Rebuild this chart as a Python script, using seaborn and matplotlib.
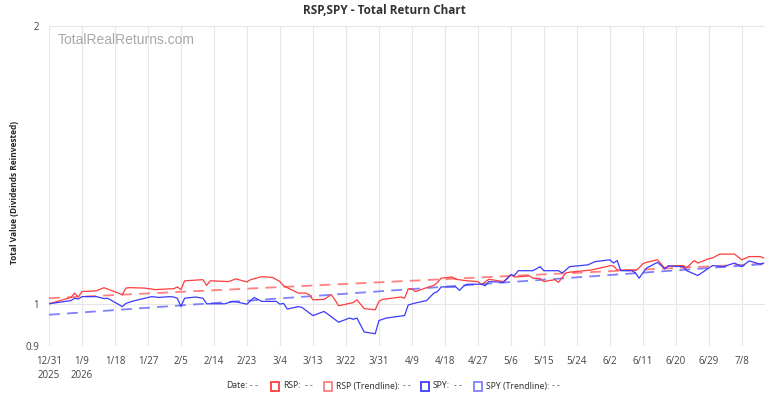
import pandas as pd
import matplotlib
matplotlib.use('Agg')
import matplotlib.pyplot as plt
from matplotlib.patches import Rectangle
from matplotlib.ticker import FixedLocator, FixedFormatter, NullLocator
import seaborn as sns

rsp_dates = ['2025-12-31', '2026-01-06', '2026-01-07', '2026-01-08', '2026-01-09', '2026-01-13',
             '2026-01-15', '2026-01-20', '2026-01-21', '2026-01-22', '2026-01-26', '2026-01-29',
             '2026-02-02', '2026-02-03', '2026-02-04', '2026-02-05', '2026-02-06', '2026-02-11',
             '2026-02-12', '2026-02-13', '2026-02-18', '2026-02-20', '2026-02-23', '2026-02-24',
             '2026-02-27', '2026-03-02', '2026-03-04', '2026-03-05', '2026-03-06', '2026-03-09',
             '2026-03-11', '2026-03-12', '2026-03-13', '2026-03-16', '2026-03-18', '2026-03-19',
             '2026-03-20', '2026-03-24', '2026-03-25', '2026-03-27', '2026-03-30', '2026-03-31',
             '2026-04-01', '2026-04-06', '2026-04-07', '2026-04-08', '2026-04-09', '2026-04-10',
             '2026-04-13', '2026-04-15', '2026-04-16', '2026-04-17', '2026-04-20', '2026-04-21',
             '2026-04-24', '2026-04-27', '2026-04-28', '2026-04-30', '2026-05-04', '2026-05-06',
             '2026-05-07', '2026-05-11', '2026-05-12', '2026-05-14', '2026-05-15', '2026-05-18',
             '2026-05-19', '2026-05-21', '2026-05-22', '2026-05-28', '2026-06-01', '2026-06-02',
             '2026-06-03', '2026-06-04', '2026-06-08', '2026-06-09', '2026-06-10', '2026-06-11',
             '2026-06-12', '2026-06-15', '2026-06-17', '2026-06-18', '2026-06-22', '2026-06-23',
             '2026-06-25', '2026-06-26', '2026-06-29', '2026-06-30', '2026-07-02', '2026-07-06',
             '2026-07-08', '2026-07-10', '2026-07-13', '2026-07-14']
rsp_values = [1.000, 1.016, 1.027, 1.017, 1.031, 1.033,
              1.041, 1.023, 1.040, 1.041, 1.040, 1.036,
              1.038, 1.038, 1.043, 1.036, 1.059, 1.062,
              1.047, 1.059, 1.057, 1.064, 1.056, 1.062,
              1.070, 1.068, 1.057, 1.046, 1.041, 1.027,
              1.027, 1.023, 1.010, 1.011, 1.023, 1.010,
              0.995, 1.003, 1.010, 0.988, 0.985, 1.006,
              1.011, 1.017, 1.014, 1.038, 1.038, 1.031,
              1.041, 1.047, 1.055, 1.066, 1.069, 1.063,
              1.059, 1.057, 1.049, 1.063, 1.057, 1.075,
              1.069, 1.072, 1.066, 1.065, 1.057, 1.062,
              1.055, 1.080, 1.082, 1.088, 1.097, 1.100,
              1.099, 1.088, 1.088, 1.086, 1.094, 1.105,
              1.109, 1.116, 1.093, 1.099, 1.100, 1.094,
              1.114, 1.107, 1.119, 1.121, 1.132, 1.132,
              1.116, 1.125, 1.125, 1.121]

spy_dates = ['2025-12-31', '2026-01-06', '2026-01-07', '2026-01-08', '2026-01-09', '2026-01-13',
             '2026-01-15', '2026-01-16', '2026-01-20', '2026-01-21', '2026-01-23', '2026-01-28',
             '2026-01-30', '2026-02-02', '2026-02-03', '2026-02-04', '2026-02-05', '2026-02-06',
             '2026-02-09', '2026-02-11', '2026-02-12', '2026-02-17', '2026-02-19', '2026-02-20',
             '2026-02-23', '2026-02-25', '2026-02-27', '2026-03-03', '2026-03-04', '2026-03-05',
             '2026-03-06', '2026-03-09', '2026-03-10', '2026-03-13', '2026-03-16', '2026-03-17',
             '2026-03-20', '2026-03-23', '2026-03-24', '2026-03-25', '2026-03-27', '2026-03-30',
             '2026-03-31', '2026-04-02', '2026-04-07', '2026-04-08', '2026-04-10', '2026-04-13',
             '2026-04-15', '2026-04-16', '2026-04-17', '2026-04-21', '2026-04-22', '2026-04-23',
             '2026-04-24', '2026-04-28', '2026-04-29', '2026-04-30', '2026-05-04', '2026-05-06',
             '2026-05-07', '2026-05-08', '2026-05-12', '2026-05-14', '2026-05-15', '2026-05-19',
             '2026-05-20', '2026-05-21', '2026-05-22', '2026-05-27', '2026-05-29', '2026-06-02',
             '2026-06-03', '2026-06-04', '2026-06-05', '2026-06-08', '2026-06-09', '2026-06-10',
             '2026-06-11', '2026-06-12', '2026-06-15', '2026-06-17', '2026-06-18', '2026-06-22',
             '2026-06-23', '2026-06-26', '2026-06-30', '2026-07-03', '2026-07-06', '2026-07-08',
             '2026-07-10', '2026-07-13', '2026-07-14']
spy_values = [1.000, 1.008, 1.014, 1.012, 1.018, 1.018,
              1.013, 1.014, 0.993, 1.001, 1.007, 1.018,
              1.016, 1.018, 1.017, 1.014, 0.993, 1.014,
              1.017, 1.014, 1.000, 1.000, 1.006, 1.005,
              0.999, 1.016, 1.006, 1.006, 0.999, 1.001,
              0.987, 0.993, 0.991, 0.971, 0.981, 0.975,
              0.955, 0.965, 0.962, 0.965, 0.932, 0.928,
              0.959, 0.965, 0.971, 0.997, 1.002, 1.008,
              1.027, 1.031, 1.043, 1.043, 1.034, 1.044,
              1.050, 1.050, 1.046, 1.057, 1.055, 1.075,
              1.073, 1.086, 1.086, 1.097, 1.086, 1.086,
              1.080, 1.088, 1.097, 1.102, 1.111, 1.116,
              1.107, 1.114, 1.086, 1.086, 1.080, 1.066,
              1.080, 1.093, 1.109, 1.091, 1.099, 1.097,
              1.086, 1.073, 1.100, 1.097, 1.107, 1.097,
              1.113, 1.104, 1.107]

trend_dates = ['2025-12-31', '2026-07-14']
rsp_trend = [1.014, 1.105]
spy_trend = [0.973, 1.104]

tick_dates = pd.date_range('2025-12-31', '2026-07-08', freq='9D')
tick_labels = [f'{d.month}/{d.day}' for d in tick_dates]
tick_labels[0] = '12/31\n2025'
tick_labels[1] = '1/9\n2026'

RSP_COLOR = '#ff3b3b'
RSP_TREND = '#ff8080'
SPY_COLOR = '#3b3bff'
SPY_TREND = '#8080ff'


def main():
    sns.set_style('white')
    plt.rcParams['font.family'] = ['Open Sans', 'DejaVu Sans']

    fig = plt.figure(figsize=(7.68, 3.94), dpi=100)
    ax = fig.add_axes([49 / 768, 1 - 346 / 394, 716 / 768, 320 / 394])

    rsp = pd.DataFrame({'date': pd.to_datetime(rsp_dates), 'value': rsp_values})
    spy = pd.DataFrame({'date': pd.to_datetime(spy_dates), 'value': spy_values})
    trend = pd.DataFrame({'date': pd.to_datetime(trend_dates), 'rsp': rsp_trend, 'spy': spy_trend})

    sns.lineplot(data=trend, x='date', y='rsp', ax=ax, color=RSP_TREND, lw=1.3,
                 linestyle=(0, (6, 4)), estimator=None)
    sns.lineplot(data=trend, x='date', y='spy', ax=ax, color=SPY_TREND, lw=1.3,
                 linestyle=(0, (6, 4)), estimator=None)
    sns.lineplot(data=rsp, x='date', y='value', ax=ax, color=RSP_COLOR, lw=0.9, estimator=None)
    sns.lineplot(data=spy, x='date', y='value', ax=ax, color=SPY_COLOR, lw=0.9, estimator=None)

    ax.set_yscale('log')
    ax.set_ylim(0.9, 2)
    ax.yaxis.set_major_locator(FixedLocator([0.9, 1, 2]))
    ax.yaxis.set_major_formatter(FixedFormatter(['0.9', '1', '2']))
    ax.yaxis.set_minor_locator(NullLocator())

    ax.set_xlim(pd.Timestamp('2025-12-31'), pd.Timestamp('2026-07-14 08:00'))
    ax.set_xticks(tick_dates)
    ax.set_xticklabels(tick_labels)

    ax.grid(True, color='#e6e6e6', lw=0.8)
    for s in ax.spines.values():
        s.set_visible(False)
    ax.tick_params(axis='both', length=5, color='#e6e6e6', labelsize=7, labelcolor='#444444', pad=2)
    for lbl in ax.get_xticklabels():
        lbl.set_horizontalalignment('center')
        lbl.set_linespacing(1.45)

    ax.set_xlabel('')
    ax.set_ylabel('Total Value (Dividends Reinvested)', fontsize=6, fontweight='bold')
    ax.yaxis.set_label_coords(-0.042, 0.48)

    fig.text(0.5, 1 - 10 / 394, 'RSP,SPY - Total Return Chart', ha='center', va='center',
             fontsize=8.5, fontweight='bold', color='#333333')
    fig.text(58 / 768, 1 - 40 / 394, 'TotalRealReturns.com', ha='left', va='center', fontsize=10,
             color='#a8a8a8', family=['Liberation Sans', 'DejaVu Sans'])

    # legend row at the bottom
    ly = 1 - 386 / 394
    fs = 6.2
    lfam = ['Noto Sans', 'DejaVu Sans']
    dash = '- -'
    fig.text(226 / 768, ly, 'Date:', fontsize=fs, va='center', color='#333333', family=lfam)
    fig.text(250 / 768, ly, dash, fontsize=fs, va='center', color='#555555', family=lfam)
    items = [(271, RSP_COLOR, 'RSP:', 305),
             (324, RSP_TREND, 'RSP (Trendline):', 403),
             (421, SPY_COLOR, 'SPY:', 454),
             (474, SPY_TREND, 'SPY (Trendline):', 552)]
    for x0, col, txt, dash_x in items:
        fig.add_artist(Rectangle((x0 / 768, (394 - 391) / 394), 8 / 768, 9 / 394,
                                 transform=fig.transFigure, facecolor='white', edgecolor=col, lw=1.3))
        fig.text((x0 + 12) / 768, ly, txt, fontsize=fs, va='center', color='#333333', family=lfam)
        fig.text(dash_x / 768, ly, dash, fontsize=fs, va='center', color='#555555', family=lfam)

    plt.savefig('out.png', dpi=100)
    plt.close()


if __name__ == '__main__':
    main()
